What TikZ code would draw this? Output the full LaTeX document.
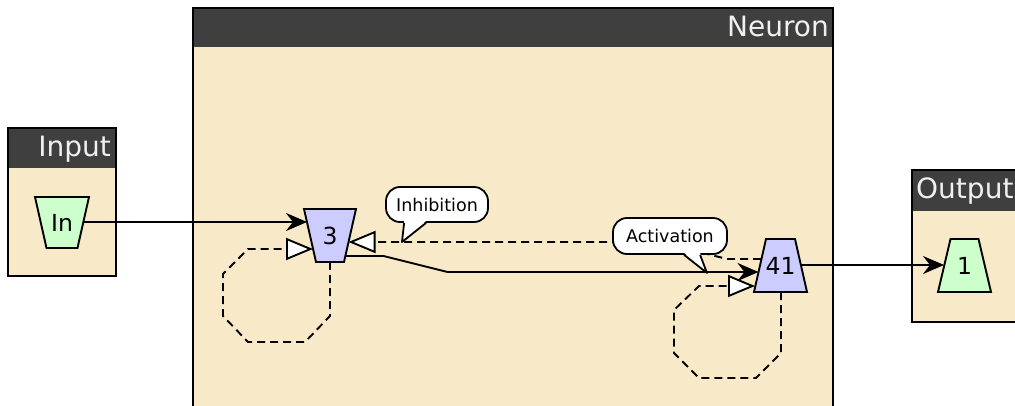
\documentclass[tikz,border=0pt]{standalone}
\usepackage{fontspec}
\setmainfont{DejaVu Sans}
\usetikzlibrary{arrows.meta,calc}
\definecolor{beige}{HTML}{F8EAC8}
\definecolor{hdr}{HTML}{3F3F3F}
\definecolor{ngreen}{HTML}{CCFFCC}
\definecolor{nblue}{HTML}{CCCCFF}
\begin{document}
\begin{tikzpicture}[x=1pt,y=-1pt,
 boxline/.style={draw=black,line width=2pt},
 title/.style={text=white!94!black,font=\fontsize{28}{30}\selectfont,inner sep=0pt},
 neurshape/.style={draw=black,line width=1.9pt,line join=miter},
 neurtext/.style={inner sep=0pt,font=\fontsize{23.5}{25}\selectfont},
 wire/.style={line width=1.9pt},
 dashwire/.style={wire,dash pattern=on 8pt off 5pt},
 act/.style={-{Stealth[length=21pt,width=18pt,inset=7pt]}},
 inh/.style={-{Triangle[length=27pt,width=22pt,fill=white]}},
 callout/.style={draw,line width=1.8pt,fill=white,rounded corners=14pt,minimum height=35pt,inner sep=0pt,font=\fontsize{17.5}{20}\selectfont},
 pointer/.style={line width=1.8pt,line join=round}
]
\useasboundingbox (0,0) rectangle (1015,406);
\clip (0,0) rectangle (1015,406);

% containers
\fill[beige] (193,8) rectangle (833,430);
\fill[hdr] (193,8) rectangle (833,47);
\draw[boxline] (193,8) rectangle (833,430);
\node[title,anchor=base east] (tneuron) at (829,37) {Neuron};

\fill[beige] (8,128) rectangle (116,276);
\fill[hdr] (8,128) rectangle (116,168);
\draw[boxline] (8,128) rectangle (116,276);
\node[title,anchor=base east] (tinput) at (111,157) {Input};

\fill[beige] (912,170) rectangle (1040,322);
\fill[hdr] (912,170) rectangle (1040,211);
\draw[boxline] (912,170) rectangle (1040,322);
\node[title,anchor=base west] (toutput) at (916,199) {Output};

% neurons
\coordinate (cin) at (62,222.5);
\coordinate (c3) at (330,235.5);
\coordinate (c41) at (780.5,265.5);
\coordinate (c1) at (964.5,265.5);
\draw[neurshape,fill=ngreen,shift={(cin)}] (-27,-25.5) -- (27,-25.5) -- (15.5,25.5) -- (-15.5,25.5) -- cycle;
\draw[neurshape,fill=nblue,shift={(c3)}] (-26,-26.5) -- (26,-26.5) -- (14,26.5) -- (-14,26.5) -- cycle;
\draw[neurshape,fill=nblue,shift={(c41)}] (-14.5,-26.5) -- (14.5,-26.5) -- (26.5,26.5) -- (-26.5,26.5) -- cycle;
\draw[neurshape,fill=ngreen,shift={(c1)}] (-14,-26.5) -- (14,-26.5) -- (26.5,26.5) -- (-26.5,26.5) -- cycle;
\node[neurtext] (nin) at (cin) {In};
\node[neurtext] (n3) at (c3) {3};
\node[neurtext] (n41) at (c41) {41};
\node[neurtext] (n1) at (c1) {1};

% connectors
\draw[wire,act] ($(nin.center)+(21.5,-0.5)$) -- ($(n3.center)+(-23,-13.5)$);
\draw[dashwire,inh] ($(n3.center)+(0,26.5)$) -- ++(0,54) -- ++(-25,26) -- ++(-57,0) -- ++(-25,-26) -- ++(0,-42) -- ++(25,-25) -- ($(n3.center)+(-17,13.5)$);
\draw[dashwire,inh] ($(n41.center)+(-19.5,-6.5)$) -- ++(-34,0) -- ++(-67,-17) -- ($(n3.center)+(18.5,6.5)$);
\draw[wire,act] ($(n3.center)+(15.5,20.5)$) -- ++(38,0) -- ++(64,16) -- ($(n41.center)+(-22,6.5)$);
\draw[dashwire,inh] ($(n41.center)+(0.5,26.5)$) -- ++(0,61) -- ++(-25,25) -- ++(-57,0) -- ++(-25,-25) -- ++(0,-43) -- ++(25,-24) -- ($(n41.center)+(-25.5,20.5)$);
\draw[wire,act] ($(n41.center)+(20,-0.5)$) -- ($(n1.center)+(-20.5,-0.5)$);

% callouts
\node[callout,minimum width=102pt] (cinh) at (437,204.5) {Inhibition};
\coordinate (cinhtip) at (402,242);
\fill[white] ($(cinh.south west)+(19,-2)$) -- (cinhtip) -- ($(cinh.south west)+(41,-2)$) -- cycle;
\draw[pointer] ($(cinh.south west)+(19,0)$) -- (cinhtip) -- ($(cinh.south west)+(41,0)$);

\node[callout,minimum width=114pt,minimum height=36pt] (cact) at (670,236) {Activation};
\coordinate (cacttip) at (707,273);
\fill[white] ($(cact.south west)+(72,-2)$) -- (cacttip) -- ($(cact.south west)+(88,-2)$) -- cycle;
\draw[pointer] ($(cact.south west)+(72,0)$) -- (cacttip) -- ($(cact.south west)+(88,0)$);
\end{tikzpicture}
\end{document}
